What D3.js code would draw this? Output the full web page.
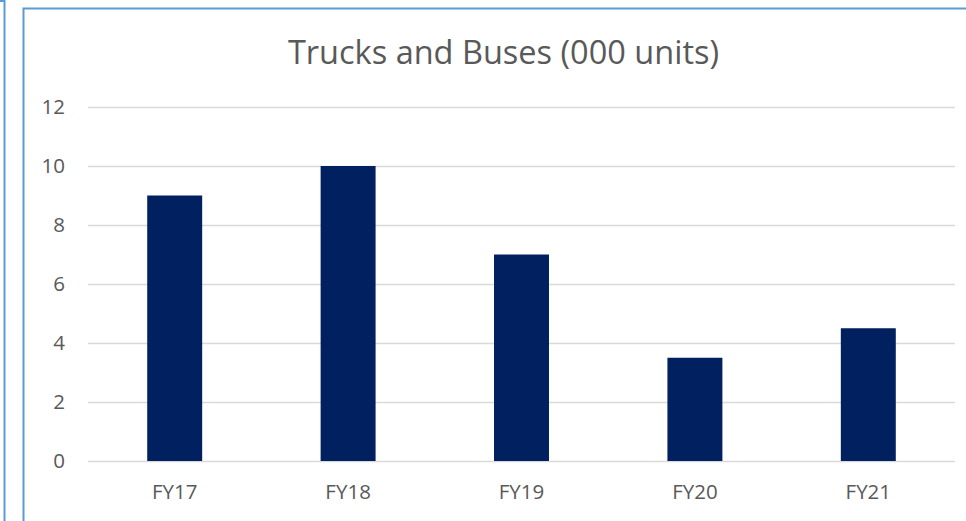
<!DOCTYPE html>
<html>
<head>
<meta charset="utf-8">
<script src="https://cdn.jsdelivr.net/npm/d3@7"></script>
<style>
  body { margin: 0; background: #fff; }
  text { font-family: "Open Sans", "Noto Sans", sans-serif; fill: #595959; }
</style>
</head>
<body>
<div id="chart-area"></div>
<script>
// data
const categories = ["FY17", "FY18", "FY19", "FY20", "FY21"];
const values = [9, 10, 7, 3.5, 4.5];
const yTicks = [0, 2, 4, 6, 8, 10, 12];
const title = "Trucks and Buses (000 units)";

const W = 966, H = 521;
const margin = { left: 88, right: 11, top: 107, bottom: 60 };
const width = W - margin.left - margin.right;
const height = H - margin.top - margin.bottom;

const svg = d3.select("#chart-area")
    .append("svg")
    .attr("width", W)
    .attr("height", H);

/* frames */
svg.append("rect")
    .attr("x", -20).attr("y", 1)
    .attr("width", 24.5).attr("height", H + 20)
    .attr("fill", "none")
    .attr("stroke", "#5B9BD5")
    .attr("stroke-width", 2);

svg.append("rect")
    .attr("x", 23.5).attr("y", 8.5)
    .attr("width", W + 20).attr("height", H + 20)
    .attr("fill", "none")
    .attr("stroke", "#5B9BD5")
    .attr("stroke-width", 2);

/* title */
svg.append("text")
    .attr("x", 503.5)
    .attr("y", 64)
    .attr("text-anchor", "middle")
    .attr("font-size", "32.5px")
    .text(title);

const g = svg.append("g")
    .attr("transform", `translate(${margin.left}, ${margin.top})`);

/* scales */
const x = d3.scaleBand()
    .domain(categories)
    .range([0, width])
    .paddingInner(0.683)
    .paddingOuter(0.683 / 2);

const y = d3.scaleLinear()
    .domain([0, 12])
    .range([height, 0]);

/* grid */
g.append("g")
    .attr("class", "grid")
    .call(d3.axisLeft(y).tickValues(yTicks).tickSize(-width).tickFormat(""))
    .call(sel => sel.select(".domain").remove())
    .call(sel => sel.selectAll("line").attr("stroke", "#D9D9D9").attr("stroke-width", 1.5));

/* y labels */
g.append("g")
    .call(d3.axisLeft(y).tickValues(yTicks).tickSize(0).tickPadding(23))
    .call(sel => sel.select(".domain").remove())
    .call(sel => sel.selectAll("text").attr("font-size", "20.5px").style("fill", "#595959"));

/* bars */
g.selectAll(".bar")
    .data(values)
    .enter().append("rect")
    .attr("class", "bar")
    .attr("x", (d, i) => x(categories[i]))
    .attr("y", d => y(d))
    .attr("width", x.bandwidth())
    .attr("height", d => height - y(d))
    .attr("fill", "#002060");

/* x labels */
g.append("g")
    .attr("transform", `translate(0,${height})`)
    .call(d3.axisBottom(x).tickSize(0).tickPadding(23))
    .call(sel => sel.select(".domain").remove())
    .call(sel => sel.selectAll("text").attr("font-size", "20.5px").style("fill", "#595959"));
</script>
</body>
</html>
